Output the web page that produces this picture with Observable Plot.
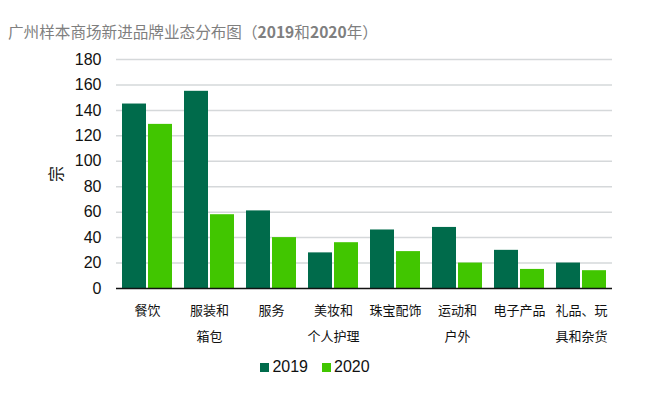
<!DOCTYPE html>
<html>
<head>
<meta charset="utf-8">
<script src="https://cdn.jsdelivr.net/npm/d3@7"></script>
<script src="https://cdn.jsdelivr.net/npm/@observablehq/plot@0.6"></script>
<style>
  body { margin: 0; background: #fff; width: 650px; font-family: "Liberation Sans", "Noto Sans CJK SC", sans-serif; }
  #title { height: 48px; box-sizing: border-box; padding: 20px 0 0 8px; line-height: 22px; font-size: 15.6px; color: #7f7f7f; font-family: "Noto Sans CJK SC", sans-serif; }
  #title b { font-weight: bold; }
  #chart svg { overflow: visible; }
  #legend { height: 34px; display: flex; align-items: center; justify-content: center; padding-right: 20px; font-size: 16px; color: #111; }
  .item { display: flex; align-items: center; margin: 0 7px; }
  .sw { width: 9px; height: 9px; margin-right: 3px; }
</style>
</head>
<body>
<div id="title">广州样本商场新进品牌业态分布图（<b>2019</b>和<b>2020</b>年）</div>
<div id="chart"></div>
<div id="legend"></div>
<script>
const categories = ["餐饮", "服装和箱包", "服务", "美妆和个人护理", "珠宝配饰", "运动和户外", "电子产品", "礼品、玩具和杂货"];
const categoryLabels = ["餐饮", "服装和\n箱包", "服务", "美妆和\n个人护理", "珠宝配饰", "运动和\n户外", "电子产品", "礼品、玩\n具和杂货"];
const years = ["2019", "2020"];
const values2019 = [145, 155, 61, 28, 46, 48, 30, 20];
const values2020 = [129, 58, 40, 36, 29, 20, 15, 14];
const colors = ["#006b4b", "#41c600"];
const yTicks = [0, 20, 40, 60, 80, 100, 120, 140, 160, 180];

const table = [];
categories.forEach((c, i) => {
  table.push({category: c, year: years[0], value: values2019[i]});
  table.push({category: c, year: years[1], value: values2020[i]});
});
const labelRows = categories.map((c, i) => ({category: c, label: categoryLabels[i]}));

const chart = Plot.plot({
  width: 650,
  height: 302,
  marginTop: 11,
  marginBottom: 62,
  marginLeft: 113,
  marginRight: 36,
  style: {fontFamily: "Liberation Sans, Noto Sans CJK SC, sans-serif", fontSize: "16px", color: "#111", background: "#fff", overflow: "visible"},
  fx: {domain: categories, padding: 0, axis: null},
  x: {domain: years, paddingInner: 0.07, paddingOuter: 0.2, axis: null},
  y: {domain: [0, 180], ticks: yTicks, tickSize: 0, tickPadding: 15, label: "宗", labelAnchor: "center", labelOffset: 66, labelArrow: "none"},
  color: {domain: years, range: colors},
  marks: [
    Plot.ruleY(yTicks.filter(d => d > 0), {stroke: "#d5d8da", strokeWidth: 1.5}),
    Plot.barY(table, {fx: "category", x: "year", y: "value", fill: "year"}),
    Plot.ruleY([0], {stroke: "#111", strokeWidth: 1.5}),
    Plot.text(labelRows, {fx: "category", text: "label", frameAnchor: "bottom", lineAnchor: "top", dy: 8, lineHeight: 2.0, fontSize: 13, fill: "#111", fontFamily: "Noto Sans CJK SC, sans-serif"})
  ]
});
document.getElementById("chart").appendChild(chart);

const legend = document.getElementById("legend");
years.forEach((y, i) => {
  const item = document.createElement("div");
  item.className = "item";
  const sw = document.createElement("div");
  sw.className = "sw";
  sw.style.background = colors[i];
  const t = document.createElement("span");
  t.textContent = y;
  item.appendChild(sw);
  item.appendChild(t);
  legend.appendChild(item);
});
</script>
</body>
</html>
